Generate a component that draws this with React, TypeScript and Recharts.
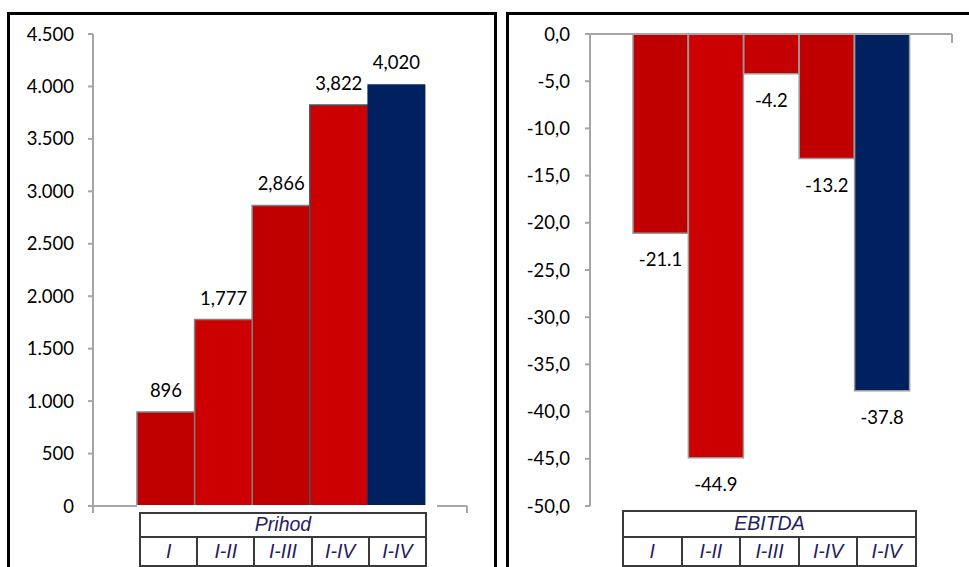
import React from 'react';
import { BarChart, Bar, XAxis, YAxis, Cell, LabelList } from 'recharts';

// categories shown in the table under each chart
const PERIODS = ['I', 'I-II', 'I-III', 'I-IV', 'I-IV'];

// Prihod (left chart)
const PRIHOD = [896, 1777, 2866, 3822, 4020];
const PRIHOD_LABELS = ['896', '1,777', '2,866', '3,822', '4,020'];
const PRIHOD_TICKS = [0, 500, 1000, 1500, 2000, 2500, 3000, 3500, 4000, 4500];
const PRIHOD_TICK_LABELS = ['0', '500', '1.000', '1.500', '2.000', '2.500', '3.000', '3.500', '4.000', '4.500'];
const PRIHOD_COLORS = ['#C00000', '#CC0000', '#C00000', '#CC0000', '#002060'];
const PRIHOD_STROKES = ['#808080', '#808080', '#808080', '#44546A', 'none'];

// EBITDA (right chart)
const EBITDA = [-21.1, -44.9, -4.2, -13.2, -37.8];
const EBITDA_LABELS = ['-21.1', '-44.9', '-4.2', '-13.2', '-37.8'];
const EBITDA_TICKS = [-50, -45, -40, -35, -30, -25, -20, -15, -10, -5, 0];
const EBITDA_TICK_LABELS = ['-50,0', '-45,0', '-40,0', '-35,0', '-30,0', '-25,0', '-20,0', '-15,0', '-10,0', '-5,0', '0,0'];
const EBITDA_COLORS = ['#C00000', '#CC0000', '#C40000', '#C00000', '#002060'];

const FONT = 'Lato, "Open Sans", sans-serif';
const FONT_SIZE = 18.5;
const AXIS_GRAY = '#A6A6A6';

const prihodData = PERIODS.map((p, i) => ({ key: 'c' + i, period: p, value: PRIHOD[i], label: PRIHOD_LABELS[i] }));
const ebitdaData = PERIODS.map((p, i) => ({ key: 'c' + i, period: p, value: EBITDA[i], label: EBITDA_LABELS[i] }));

const tickStyle = { fill: '#000', fontSize: FONT_SIZE, fontFamily: FONT };

const topLabel = (labels: string[]) => (props: any) => {
  const { x, y, width, height, index } = props;
  const top = Math.min(y, y + height);
  return (
    <text x={x + width / 2} y={top - 22} textAnchor="middle" dominantBaseline="central" fill="#000" fontSize={FONT_SIZE} fontFamily={FONT}>
      {labels[index]}
    </text>
  );
};

const bottomLabel = (labels: string[]) => (props: any) => {
  const { x, y, width, height, index } = props;
  const bottom = Math.max(y, y + height);
  return (
    <text x={x + width / 2} y={bottom + 26} textAnchor="middle" dominantBaseline="central" fill="#000" fontSize={FONT_SIZE} fontFamily={FONT}>
      {labels[index]}
    </text>
  );
};

const cellStyle: React.CSSProperties = {
  border: '2px solid #3A3A3A',
  padding: 0,
  textAlign: 'center',
  fontFamily: '"Liberation Sans", Arial, sans-serif',
  fontStyle: 'italic',
  fontSize: 19.5,
  color: '#23205E',
  lineHeight: 1,
};

const DataTable: React.FC<{ title: string; left: number; top: number; width: number; rows: [number, number] }> = ({ title, left, top, width, rows }) => (
  <div style={{ position: 'absolute', left: left - 2, top: top - 7, width: width + 10, paddingTop: 7, paddingLeft: 2, background: '#fff' }}>
    <table style={{ borderCollapse: 'collapse', width, tableLayout: 'fixed' }}>
      <tbody>
        <tr style={{ height: rows[0] }}>
          <td colSpan={PERIODS.length} style={cellStyle}>{title}</td>
        </tr>
        <tr style={{ height: rows[1] }}>
          {PERIODS.map((p, i) => (
            <td key={i} style={cellStyle}>{p}</td>
          ))}
        </tr>
      </tbody>
    </table>
  </div>
);

const Tick: React.FC<{ left: number; top: number; height: number }> = ({ left, top, height }) => (
  <div style={{ position: 'absolute', left: left - 1, top, width: 2, height, background: AXIS_GRAY }} />
);

const App: React.FC = () => {
  return (
    <div style={{ position: 'absolute', left: 0, top: 0, width: 969, height: 567, overflow: 'hidden', background: '#fff' }}>
      {/* panel frames */}
      <div style={{ position: 'absolute', left: 7, top: 12, width: 490, height: 600, border: '3px solid #000', boxSizing: 'border-box' }} />
      <div style={{ position: 'absolute', left: 506, top: 12, width: 500, height: 600, border: '3px solid #000', boxSizing: 'border-box' }} />

      {/* Prihod */}
      <div style={{ position: 'absolute', left: 0, top: 0 }}>
        <BarChart width={480} height={540} data={prihodData} margin={{ top: 34, right: 13, bottom: 33, left: 0 }} barCategoryGap={0} barGap={0}>
          <XAxis dataKey="key" height={1} tick={false} tickLine={false} axisLine={{ stroke: AXIS_GRAY, strokeWidth: 2 }} padding={{ left: 44, right: 42 }} />
          <YAxis
            width={93}
            domain={[0, 4500]}
            ticks={PRIHOD_TICKS}
            interval={0}
            tickFormatter={(v: number) => PRIHOD_TICK_LABELS[PRIHOD_TICKS.indexOf(v)]}
            tick={tickStyle}
            tickSize={5}
            tickMargin={14}
            axisLine={{ stroke: AXIS_GRAY, strokeWidth: 2 }}
            tickLine={{ stroke: AXIS_GRAY, strokeWidth: 2 }}
          />
          <Bar dataKey="value" isAnimationActive={false} strokeWidth={1.5}>
            {prihodData.map((d, i) => (
              <Cell key={d.key} fill={PRIHOD_COLORS[i]} stroke={PRIHOD_STROKES[i]} />
            ))}
            <LabelList dataKey="label" content={topLabel(PRIHOD_LABELS)} />
          </Bar>
        </BarChart>
      </div>
      <Tick left={93} top={506} height={7} />
      <Tick left={467} top={506} height={7} />
      <DataTable title="Prihod" left={139} top={512} width={288} rows={[24, 29]} />

      {/* EBITDA */}
      <div style={{ position: 'absolute', left: 500, top: 0 }}>
        <BarChart width={469} height={540} data={ebitdaData} margin={{ top: 33, right: 17, bottom: 34, left: 0 }} barCategoryGap={0} barGap={0}>
          <XAxis dataKey="key" orientation="top" height={1} tick={false} tickLine={false} axisLine={{ stroke: AXIS_GRAY, strokeWidth: 2 }} padding={{ left: 43, right: 42 }} />
          <YAxis
            width={90}
            domain={[-50, 0]}
            ticks={EBITDA_TICKS}
            interval={0}
            tickFormatter={(v: number) => EBITDA_TICK_LABELS[EBITDA_TICKS.indexOf(v)]}
            tick={tickStyle}
            tickSize={5}
            tickMargin={15}
            axisLine={{ stroke: AXIS_GRAY, strokeWidth: 2 }}
            tickLine={{ stroke: AXIS_GRAY, strokeWidth: 2 }}
          />
          <Bar dataKey="value" isAnimationActive={false} strokeWidth={1.5}>
            {ebitdaData.map((d, i) => (
              <Cell key={d.key} fill={EBITDA_COLORS[i]} stroke="#9A9A9A" />
            ))}
            <LabelList dataKey="label" content={bottomLabel(EBITDA_LABELS)} />
          </Bar>
        </BarChart>
      </div>
      <Tick left={952} top={34} height={9} />
      <DataTable title="EBITDA" left={622} top={510} width={295} rows={[26, 29]} />
    </div>
  );
};

export default App;
